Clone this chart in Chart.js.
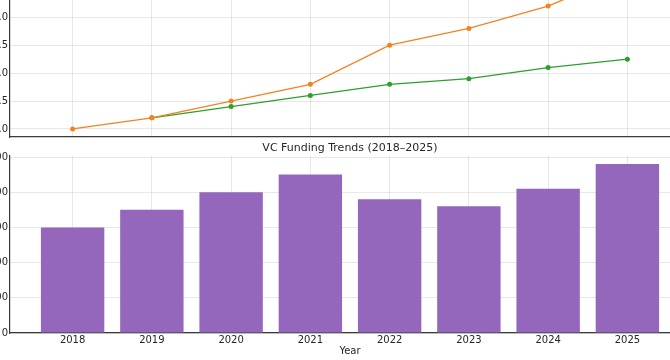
<!DOCTYPE html>
<html>
<head>
<meta charset="utf-8">
<script src="https://cdn.jsdelivr.net/npm/chart.js@4.4.1/dist/chart.umd.min.js"></script>
<style>
  html, body { margin: 0; padding: 0; width: 670px; height: 360px; overflow: hidden; background: #fff; }
  canvas { position: absolute; }
  #top { left: -50px; top: -80px; }
  #bottom { left: -50px; top: 130px; }
</style>
</head>
<body>
<canvas id="top" width="760" height="225"></canvas>
<canvas id="bottom" width="760" height="230"></canvas>
<script>
// ---- data ----
const years = ['2018', '2019', '2020', '2021', '2022', '2023', '2024', '2025'];
const seriesOrange = [0.0, 0.2, 0.5, 0.8, 1.5, 1.8, 2.2, 2.8];
const seriesGreen = [null, 0.2, 0.4, 0.6, 0.8, 0.9, 1.1, 1.25];
const funding = [300, 350, 400, 450, 380, 360, 410, 480];
const topTicks = [0, 0.5, 1.0, 1.5, 2.0, 2.5];
const barTicks = [0, 100, 200, 300, 400, 500];
const chartTitle = 'VC Funding Trends (2018–2025)';
const xTitle = 'Year';

const FONT = 'DejaVu Sans';
const TEXT = '#262626';
const GRID = 'rgba(170,170,170,0.35)';
const SPINE = '#3a3a3a';

const toXY = arr => arr.map((v, i) => ({ x: i, y: v }));
const xMin = -0.79, xMax = 7.79;

function xScale(showLabels) {
  return {
    type: 'linear',
    min: xMin, max: xMax,
    offset: false,
    z: 1,
    afterBuildTicks: s => { s.ticks = years.map((_, i) => ({ value: i })); },
    afterFit: s => { s.height = showLabels ? 27 : 0; },
    grid: { color: GRID, lineWidth: 0.8, drawTicks: false, offset: false },
    border: { color: SPINE, width: 1.2 },
    ticks: {
      display: showLabels,
      padding: 1,
      color: TEXT,
      font: { family: FONT, size: 10 },
      callback: v => years[v] !== undefined ? years[v] : ''
    },
    title: showLabels ? {
      display: true, text: xTitle, color: TEXT,
      font: { family: FONT, size: 10 }, padding: { top: 0, bottom: 3 }
    } : { display: false }
  };
}

function yScale(min, max, ticks, fmt) {
  return {
    min: min, max: max,
    z: 1,
    afterBuildTicks: s => { s.ticks = ticks.map(v => ({ value: v })); },
    afterFit: s => { s.width = 60; },
    grid: { color: GRID, lineWidth: 0.8, drawTicks: false },
    border: { color: SPINE, width: 1.2 },
    ticks: { padding: 2, color: TEXT, font: { family: FONT, size: 10 }, callback: fmt }
  };
}

new Chart(document.getElementById('top'), {
  type: 'line',
  data: {
    datasets: [
      { data: toXY(seriesOrange), borderColor: '#f5821f', backgroundColor: '#f5821f',
        borderWidth: 1.3, pointRadius: 2.5, pointBorderWidth: 0, tension: 0 },
      { data: toXY(seriesGreen), borderColor: '#2ca02c', backgroundColor: '#2ca02c',
        borderWidth: 1.3, pointRadius: 2.5, pointBorderWidth: 0, tension: 0, spanGaps: false }
    ]
  },
  options: {
    responsive: false, animation: false,
    layout: { padding: { top: 44.8, bottom: 4, left: 0, right: 20 } },
    plugins: { legend: { display: false }, tooltip: { enabled: false }, title: { display: false } },
    scales: {
      x: xScale(false),
      y: yScale(-0.144, 2.94, topTicks, v => Number(v).toFixed(1))
    }
  }
});

new Chart(document.getElementById('bottom'), {
  type: 'bar',
  data: {
    datasets: [
      { data: toXY(funding), backgroundColor: '#9467bd', borderWidth: 0,
        barPercentage: 0.8, categoryPercentage: 1.0 }
    ]
  },
  options: {
    responsive: false, animation: false,
    layout: { padding: { top: 0, bottom: 0, left: 0, right: 20 } },
    plugins: {
      legend: { display: false }, tooltip: { enabled: false },
      title: {
        display: true, text: chartTitle, color: TEXT, fullSize: false,
        font: { family: FONT, size: 11, weight: 'normal' },
        padding: { top: 11.4, bottom: 1 }
      }
    },
    scales: {
      x: xScale(true),
      y: yScale(0, 504, barTicks, v => String(v))
    }
  }
});
</script>
</body>
</html>
